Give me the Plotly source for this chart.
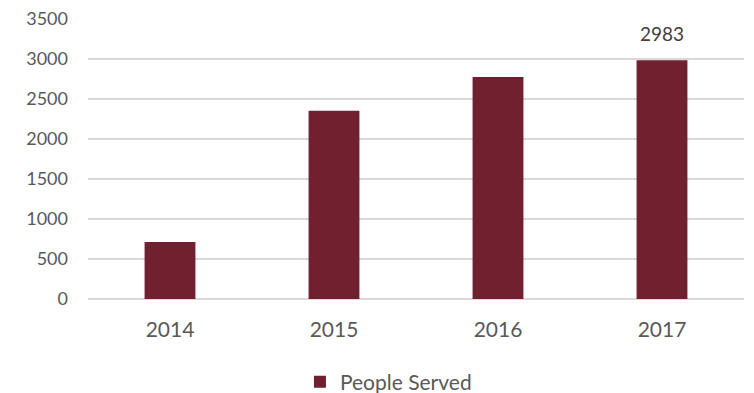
import plotly.graph_objects as go

# People served per year
years = ["2014", "2015", "2016", "2017"]
people_served = [712, 2354, 2775, 2983]
labelled_year = "2017"
y_ticks = [0, 500, 1000, 1500, 2000, 2500, 3000, 3500]

bar_color = "#71202F"
text_color = "#595959"
font_family = "Lato, 'Open Sans', sans-serif"

fig = go.Figure(
    go.Bar(
        x=years,
        y=people_served,
        name="People Served",
        marker=dict(color=bar_color, line=dict(width=0)),
        showlegend=True,
    )
)

# value label above the highlighted bar (category axis: position by index)
label_index = years.index(labelled_year)
label_value = people_served[label_index]
fig.add_annotation(
    x=label_index,
    y=label_value,
    text=str(label_value),
    showarrow=False,
    yanchor="bottom",
    yshift=13,
    font=dict(size=19, color="#404040", family=font_family),
)

fig.update_layout(
    width=754,
    height=393,
    margin=dict(l=88, r=10, t=19, b=94, autoexpand=False),
    paper_bgcolor="white",
    plot_bgcolor="white",
    bargap=0.69,
    font=dict(family=font_family, color=text_color),
    showlegend=True,
    legend=dict(
        orientation="h",
        x=0.458,
        xanchor="center",
        yref="container",
        y=0.028,
        yanchor="middle",
        font=dict(size=21, color=text_color),
        itemwidth=30,
    ),
)

fig.update_xaxes(
    type="category",
    range=[-0.5, len(years) - 0.5],
    showgrid=False,
    showline=False,
    ticks="",
    tickfont=dict(size=21, color=text_color),
    ticklabelstandoff=16,
)

fig.update_yaxes(
    range=[0, 3500],
    tickvals=y_ticks,
    showgrid=True,
    gridcolor="#D9D9D9",
    gridwidth=1.5,
    zeroline=True,
    zerolinecolor="#D9D9D9",
    zerolinewidth=1.5,
    showline=False,
    ticks="",
    tickfont=dict(size=18, color=text_color),
    ticklabelstandoff=19,
)

fig.write_html("out.html")
